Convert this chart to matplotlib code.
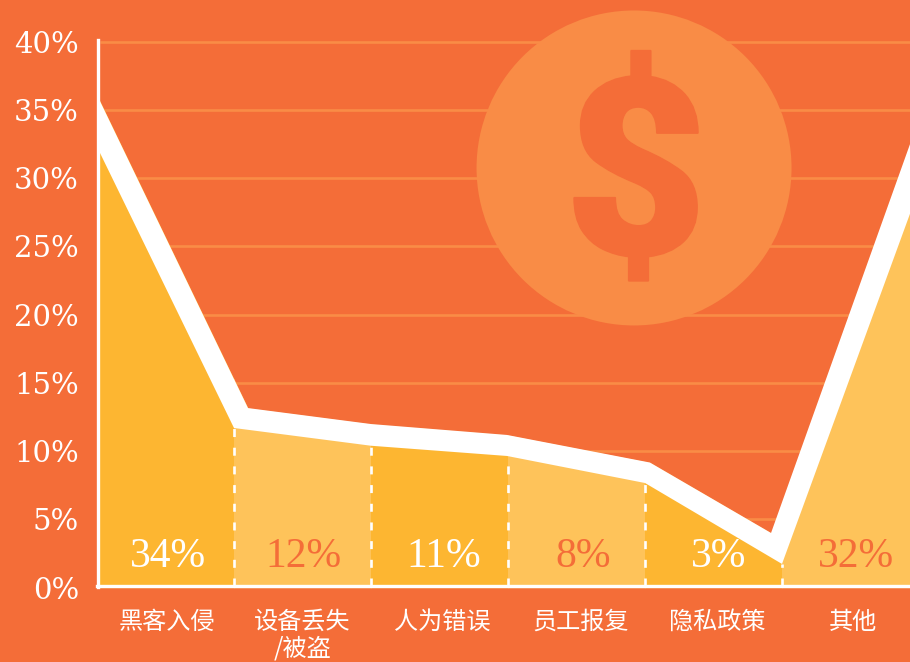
import matplotlib
matplotlib.use('Agg')
import matplotlib.pyplot as plt
import matplotlib.patheffects as pe
from matplotlib.patches import Ellipse, Rectangle

categories = ['黑客入侵', '设备丢失\n/被盗', '人为错误', '员工报复', '隐私政策', '其他']
label_x = [0.51, 1.50, 2.52, 3.53, 4.53, 5.52]
value_labels = ['34%', '12%', '11%', '8%', '3%', '32%']
value_x = [0.52, 1.51, 2.53, 3.55, 4.54, 5.54]
value_colors = ['white', '#F46D38', 'white', '#F46D38', 'white', '#F46D38']
# white band, upper and lower edge
upper_x = [0, 1.102, 2, 2.993, 4.036, 4.92, 6]
upper_y = [36.1, 13.16, 11.99, 11.19, 9.17, 4.01, 34.34]
lower_x = [0, 1, 2, 2.993, 4, 5, 6]
lower_y = [32.3, 11.70, 10.40, 9.65, 7.67, 1.74, 29.2]
dash_x = [1, 2, 3, 4, 5]
dash_top = [11.70, 10.40, 9.65, 7.67, 1.74]
yticks = [0, 5, 10, 15, 20, 25, 30, 35, 40]

BG = '#F46D38'
DARK = '#FDB631'
LIGHT = '#FEC35A'
SOFT = '#F98C46'

W, H = 910, 662
fig = plt.figure(figsize=(W / 100, H / 100), dpi=100, facecolor=BG)
ppx = 137.0
ppy = 13.65
y0 = 587.7
top = 40.12
ax = fig.add_axes([97 / W, (H - y0) / H, (910 - 97) / W, top * ppy / H], facecolor=BG)
ax.set_xlim(0, (910 - 97) / ppx)
ax.set_ylim(0, top)

# grid lines stop just short of the y axis
for y in yticks[1:]:
    ax.plot([0.02, 6], [y, y], color=SOFT, lw=1.9, zorder=1, solid_capstyle='butt')

# coin
ax.add_patch(Ellipse((3.92, 30.75), 315 / ppx, 315 / ppy, color=SOFT, zorder=1.5, clip_on=False, lw=0))
ax.text(3.934, 29.37, '$', family='Roboto', weight=900, fontsize=178, color=BG,
        ha='center', va='center', zorder=1.6,
        path_effects=[pe.withStroke(linewidth=1.5, foreground=BG)])

# alternating areas, they run under the band so no seam shows
for i in range(6):
    poly = ax.fill_between(upper_x, upper_y, 0, color=DARK if i % 2 == 0 else LIGHT, lw=0, zorder=2)
    poly.set_clip_path(Rectangle((i, 0), 1, 40, transform=ax.transData))

ax.vlines(dash_x, 0.12, dash_top, color='white', lw=1.9, linestyles=(0, (3.03, 4.05)), zorder=2.2)
ax.fill(upper_x + lower_x[::-1], upper_y + lower_y[::-1], color='white', lw=0, zorder=3)

for x, s, c in zip(value_x, value_labels, value_colors):
    ax.text(x, 2.3, s, family='Liberation Serif', fontsize=30, color=c, ha='center', va='center', zorder=4)

for side in ['top', 'right']:
    ax.spines[side].set_visible(False)
ax.spines['left'].set_color('white')
ax.spines['bottom'].set_color('white')
ax.spines['left'].set_linewidth(2.4)
ax.spines['bottom'].set_linewidth(2.4)
ax.spines['left'].set_position(('data', 0.005))
ax.spines['bottom'].set_position(('data', 0.12))
ax.spines['left'].set_bounds(0.02, top)
ax.spines['left'].set_zorder(3.5)
ax.spines['bottom'].set_zorder(3.5)

ax.set_yticks(yticks)
ax.set_yticklabels(['%d%%' % y for y in yticks], family='DejaVu Serif', fontsize=21, color='white')
ax.set_xticks(label_x)
ax.set_xticklabels(categories, family=['Noto Sans CJK SC', 'DejaVu Sans'], fontsize=17.4,
                   color='white', linespacing=1.05)
ax.tick_params(axis='y', length=0, pad=13.5)
ax.tick_params(axis='x', length=0, pad=16.5)

fig.savefig('out.png', dpi=100, facecolor=BG)
